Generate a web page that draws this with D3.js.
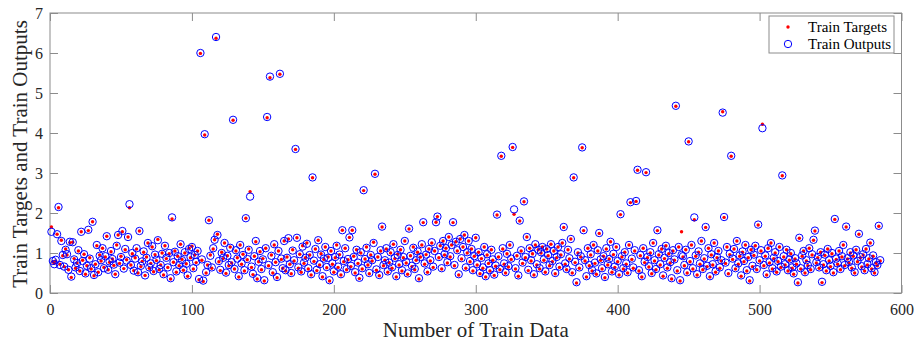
<!DOCTYPE html>
<html>
<head>
<meta charset="utf-8">
<script src="https://cdn.jsdelivr.net/npm/d3@7/dist/d3.min.js"></script>
<style>
  html, body { margin: 0; padding: 0; background: #fff; }
  svg { display: block; }
  .tick text { font-family: "Liberation Serif", "Times New Roman", serif; font-size: 16px; fill: #262626; }
</style>
</head>
<body>
<svg id="chart" width="918" height="343"></svg>
<script>
// Target values for each training sample (sample index starts at 1)
const trainTargets = [
  1.65, 0.78, 0.74, 0.80, 1.47, 2.13, 0.72, 1.32, 0.93, 0.66, 1.10, 0.95, 0.58, 1.26, 0.39,
  1.27, 0.86, 0.62, 0.75, 1.05, 0.55, 1.53, 0.82, 0.97, 0.47, 0.68, 1.56, 0.88, 0.60, 1.78,
  0.43, 0.72, 1.18, 0.52, 0.95, 0.80, 1.12, 0.64, 0.90, 1.42, 0.58, 0.77, 1.03, 0.85, 0.69,
  0.47, 1.20, 1.45, 0.74, 0.92, 1.53, 0.61, 1.08, 0.83, 1.40, 2.13, 0.70, 0.98, 0.56, 0.88,
  1.10, 0.50, 1.55, 0.66, 0.79, 1.02, 0.44, 0.90, 1.25, 0.62, 0.74, 1.15, 0.53, 0.96, 0.81,
  1.34, 0.58, 0.70, 1.00, 0.45, 1.18, 0.86, 0.64, 0.98, 0.35, 1.85, 0.77, 1.05, 0.52, 0.92,
  0.68, 1.22, 0.84, 0.57, 1.00, 0.73, 0.42, 1.12, 0.88, 1.17, 0.60, 0.95, 0.76, 1.05, 0.33,
  5.99, 0.82, 0.29, 3.95, 0.50, 0.70, 1.82, 0.95, 0.62, 1.10, 1.33, 6.37, 1.47, 0.78, 0.56,
  1.02, 0.86, 1.25, 0.49, 0.93, 0.68, 1.15, 0.75, 4.32, 0.60, 1.05, 0.88, 0.40, 1.20, 0.72,
  0.97, 0.55, 1.87, 0.83, 1.10, 2.53, 0.64, 0.46, 0.92, 1.28, 0.35, 0.78, 1.03, 0.58, 0.86,
  0.30, 1.12, 4.38, 0.68, 5.38, 0.95, 0.50, 1.20, 0.77, 0.38, 1.05, 5.47, 0.84, 0.62, 1.30,
  0.55, 0.90, 1.35, 0.72, 0.48, 1.08, 0.80, 3.59, 1.38, 0.62, 0.97, 0.52, 1.18, 0.74, 0.88,
  1.25, 0.60, 0.95, 0.45, 2.88, 0.79, 1.10, 0.56, 1.32, 0.70, 0.98, 0.40, 0.84, 1.15, 0.63,
  0.90, 0.30, 1.05, 0.72, 0.52, 0.88, 1.20, 0.64, 0.96, 0.45, 1.57, 0.78, 1.12, 0.58, 0.83,
  1.39, 0.66, 1.57, 0.92, 0.50, 1.08, 0.74, 0.36, 1.00, 0.60, 2.56, 0.85, 1.15, 0.70, 0.48,
  0.95, 0.80, 1.27, 2.97, 0.57, 0.90, 0.43, 1.05, 1.65, 0.68, 0.82, 1.10, 0.52, 0.76, 1.00,
  0.62, 1.22, 0.86, 0.40, 0.97, 0.70, 1.08, 0.55, 0.88, 1.30, 0.75, 0.47, 1.60, 0.93, 0.66,
  1.15, 0.58, 0.82, 1.02, 0.35, 0.90, 1.20, 1.76, 0.72, 0.96, 0.52, 1.10, 0.80, 1.25, 0.64,
  1.05, 1.77, 1.91, 0.88, 1.18, 0.60, 1.30, 0.95, 1.12, 0.75, 1.40, 0.90, 1.20, 1.76, 0.68,
  1.28, 1.05, 0.45, 1.35, 0.85, 1.15, 1.45, 0.62, 1.00, 1.30, 0.78, 1.10, 0.55, 0.92, 1.38,
  0.70, 1.02, 0.48, 0.86, 0.62, 1.15, 0.40, 0.95, 0.74, 0.55, 1.08, 0.82, 0.44, 0.67, 1.95,
  0.90, 0.58, 3.42, 1.10, 0.72, 0.50, 0.98, 0.65, 1.20, 0.84, 3.64, 1.97, 0.60, 0.93, 0.42,
  1.80, 1.05, 0.74, 2.28, 0.88, 1.40, 0.56, 1.12, 0.80, 0.98, 0.45, 1.20, 0.70, 1.08, 0.60,
  1.00, 1.15, 0.82, 0.52, 1.10, 0.93, 0.68, 1.22, 0.78, 1.05, 0.48, 0.88, 1.15, 0.64, 0.95,
  1.25, 1.64, 0.72, 0.58, 1.08, 0.85, 1.35, 0.50, 2.88, 0.76, 0.25, 1.00, 0.62, 0.90, 3.63,
  1.56, 0.80, 0.40, 1.12, 0.68, 0.95, 0.55, 1.20, 0.74, 0.47, 1.05, 1.49, 0.82, 0.60, 0.92,
  0.38, 1.10, 0.70, 0.85, 1.28, 0.52, 0.96, 0.64, 1.15, 0.78, 0.45, 1.96, 0.90, 0.60, 1.02,
  0.72, 0.50, 1.20, 2.26, 0.84, 0.62, 1.05, 2.29, 3.07, 0.55, 0.93, 0.40, 1.12, 0.76, 3.01,
  0.88, 0.65, 1.00, 0.48, 1.25, 0.80, 0.58, 1.56, 0.95, 0.70, 1.10, 0.42, 0.86, 1.18, 0.62,
  0.98, 0.75, 0.35, 1.05, 0.82, 4.67, 0.55, 1.15, 0.30, 1.53, 0.90, 0.68, 1.08, 0.50, 3.78,
  0.78, 1.20, 0.60, 1.83, 0.92, 0.45, 1.02, 0.72, 1.30, 0.58, 0.85, 1.64, 0.66, 1.12, 0.40,
  0.95, 0.70, 1.25, 0.52, 0.88, 1.05, 0.62, 0.80, 4.53, 1.89, 0.74, 1.15, 0.48, 0.96, 3.42,
  0.84, 1.10, 0.60, 1.30, 0.72, 0.92, 0.42, 1.02, 0.78, 1.20, 0.55, 0.88, 0.30, 1.08, 0.66,
  0.94, 1.18, 0.58, 1.70, 0.80, 1.05, 4.22, 0.68, 0.92, 0.45, 1.12, 0.75, 1.25, 0.60, 0.86,
  1.00, 0.52, 0.78, 1.15, 0.64, 2.93, 0.90, 0.70, 1.08, 0.55, 0.82, 0.98, 0.62, 0.47, 0.85,
  0.72, 0.25, 1.37, 0.60, 0.92, 1.05, 0.50, 0.80, 0.68, 1.12, 0.58, 0.95, 1.32, 1.55, 0.75,
  0.88, 0.62, 1.02, 0.26, 0.70, 0.94, 0.55, 1.10, 0.80, 0.66, 0.98, 0.50, 1.84, 0.84, 0.72,
  1.05, 0.58, 0.90, 1.20, 0.68, 1.65, 0.85, 0.75, 1.00, 0.62, 0.92, 0.50, 1.08, 0.78, 1.47,
  0.88, 0.65, 0.95, 0.55, 1.10, 0.70, 0.85, 1.25, 0.60, 0.92, 0.50, 0.75, 0.68, 1.67, 0.80
];

// Network outputs for the same samples
const trainOutputs = [
  1.53, 0.80, 0.72, 0.83, 1.47, 2.15, 0.70, 1.30, 0.95, 0.66, 1.08, 0.97, 0.58, 1.28, 0.41,
  1.27, 0.84, 0.64, 0.75, 1.07, 0.55, 1.53, 0.80, 0.97, 0.49, 0.68, 1.58, 0.86, 0.62, 1.78,
  0.45, 0.72, 1.20, 0.52, 0.93, 0.82, 1.12, 0.62, 0.92, 1.42, 0.58, 0.79, 1.05, 0.85, 0.71,
  0.47, 1.18, 1.45, 0.76, 0.90, 1.55, 0.61, 1.10, 0.81, 1.40, 2.22, 0.70, 1.00, 0.56, 0.86,
  1.12, 0.52, 1.55, 0.68, 0.79, 1.04, 0.44, 0.88, 1.25, 0.64, 0.74, 1.17, 0.55, 0.96, 0.83,
  1.32, 0.60, 0.70, 0.98, 0.47, 1.18, 0.88, 0.64, 1.00, 0.37, 1.89, 0.77, 1.03, 0.54, 0.92,
  0.70, 1.22, 0.82, 0.59, 1.02, 0.73, 0.44, 1.10, 0.90, 1.15, 0.62, 0.95, 0.78, 1.05, 0.35,
  6.00, 0.84, 0.31, 3.97, 0.52, 0.70, 1.82, 0.93, 0.64, 1.12, 1.33, 6.40, 1.45, 0.80, 0.58,
  1.00, 0.88, 1.25, 0.51, 0.93, 0.70, 1.13, 0.77, 4.33, 0.60, 1.07, 0.86, 0.42, 1.20, 0.74,
  0.95, 0.57, 1.87, 0.85, 1.08, 2.41, 0.66, 0.48, 0.92, 1.30, 0.37, 0.78, 1.05, 0.60, 0.84,
  0.32, 1.12, 4.40, 0.70, 5.41, 0.93, 0.52, 1.22, 0.77, 0.40, 1.05, 5.48, 0.86, 0.62, 1.30,
  0.57, 0.88, 1.37, 0.72, 0.50, 1.06, 0.82, 3.60, 1.38, 0.64, 0.97, 0.54, 1.16, 0.76, 0.88,
  1.23, 0.62, 0.95, 0.47, 2.89, 0.81, 1.10, 0.58, 1.32, 0.72, 0.96, 0.42, 0.86, 1.15, 0.65,
  0.88, 0.32, 1.05, 0.74, 0.54, 0.90, 1.18, 0.66, 0.96, 0.47, 1.57, 0.80, 1.12, 0.60, 0.85,
  1.39, 0.68, 1.57, 0.90, 0.52, 1.08, 0.76, 0.38, 1.02, 0.62, 2.57, 0.85, 1.13, 0.72, 0.50,
  0.95, 0.82, 1.25, 2.98, 0.59, 0.90, 0.45, 1.07, 1.66, 0.70, 0.82, 1.12, 0.54, 0.76, 1.02,
  0.64, 1.22, 0.88, 0.42, 0.95, 0.72, 1.08, 0.57, 0.90, 1.30, 0.77, 0.49, 1.61, 0.93, 0.68,
  1.13, 0.60, 0.82, 1.04, 0.37, 0.90, 1.22, 1.77, 0.74, 0.96, 0.54, 1.10, 0.82, 1.27, 0.66,
  1.05, 1.77, 1.91, 0.90, 1.18, 0.62, 1.30, 0.97, 1.12, 0.77, 1.40, 0.92, 1.20, 1.77, 0.70,
  1.28, 1.07, 0.47, 1.35, 0.87, 1.15, 1.45, 0.64, 1.02, 1.30, 0.80, 1.10, 0.57, 0.92, 1.38,
  0.72, 1.02, 0.50, 0.88, 0.64, 1.15, 0.42, 0.97, 0.74, 0.57, 1.08, 0.84, 0.46, 0.69, 1.96,
  0.92, 0.60, 3.43, 1.12, 0.74, 0.52, 0.98, 0.67, 1.20, 0.86, 3.65, 2.09, 0.62, 0.93, 0.44,
  1.81, 1.07, 0.76, 2.29, 0.90, 1.40, 0.58, 1.12, 0.82, 0.98, 0.47, 1.22, 0.72, 1.08, 0.62,
  1.02, 1.15, 0.84, 0.54, 1.10, 0.95, 0.70, 1.22, 0.80, 1.05, 0.50, 0.90, 1.15, 0.66, 0.97,
  1.25, 1.65, 0.74, 0.60, 1.08, 0.87, 1.35, 0.52, 2.89, 0.78, 0.27, 1.02, 0.64, 0.92, 3.64,
  1.57, 0.82, 0.42, 1.12, 0.70, 0.97, 0.57, 1.20, 0.76, 0.49, 1.07, 1.50, 0.84, 0.62, 0.92,
  0.40, 1.12, 0.72, 0.85, 1.28, 0.54, 0.98, 0.66, 1.15, 0.80, 0.47, 1.97, 0.92, 0.62, 1.02,
  0.74, 0.52, 1.20, 2.27, 0.86, 0.64, 1.07, 2.30, 3.08, 0.57, 0.95, 0.42, 1.12, 0.78, 3.02,
  0.90, 0.67, 1.02, 0.50, 1.25, 0.82, 0.60, 1.57, 0.97, 0.72, 1.10, 0.44, 0.88, 1.18, 0.64,
  1.00, 0.77, 0.37, 1.07, 0.84, 4.68, 0.57, 1.15, 0.32, 0.95, 0.92, 0.70, 1.08, 0.52, 3.79,
  0.80, 1.20, 0.62, 1.89, 0.94, 0.47, 1.04, 0.74, 1.30, 0.60, 0.87, 1.65, 0.68, 1.12, 0.42,
  0.97, 0.72, 1.25, 0.54, 0.90, 1.05, 0.64, 0.82, 4.51, 1.90, 0.76, 1.15, 0.50, 0.98, 3.43,
  0.86, 1.10, 0.62, 1.30, 0.74, 0.94, 0.44, 1.04, 0.80, 1.20, 0.57, 0.90, 0.32, 1.08, 0.68,
  0.96, 1.18, 0.60, 1.71, 0.82, 1.07, 4.12, 0.70, 0.94, 0.47, 1.12, 0.77, 1.25, 0.62, 0.88,
  1.02, 0.54, 0.80, 1.15, 0.66, 2.94, 0.92, 0.72, 1.08, 0.57, 0.84, 1.00, 0.64, 0.49, 0.87,
  0.74, 0.27, 1.38, 0.62, 0.94, 1.05, 0.52, 0.82, 0.70, 1.12, 0.60, 0.97, 1.33, 1.56, 0.77,
  0.90, 0.64, 1.02, 0.28, 0.72, 0.96, 0.57, 1.10, 0.82, 0.68, 1.00, 0.52, 1.85, 0.86, 0.74,
  1.05, 0.60, 0.92, 1.20, 0.70, 1.66, 0.87, 0.77, 1.02, 0.64, 0.94, 0.52, 1.08, 0.80, 1.48,
  0.90, 0.67, 0.97, 0.57, 1.10, 0.72, 0.87, 1.26, 0.62, 0.94, 0.52, 0.77, 0.70, 1.68, 0.82
];

const xTicks = [0, 100, 200, 300, 400, 500, 600];
const yTicks = [0, 1, 2, 3, 4, 5, 6, 7];
const seriesNames = ["Train Targets", "Train Outputs"];

const plotL = 50, plotR = 901.5, plotT = 13, plotB = 293;
const axisColor = "#8c8c8c";
const serif = '"Liberation Serif", "Times New Roman", serif';

const svg = d3.select("#chart");

const x = d3.scaleLinear().domain([0, 600]).range([plotL, plotR]);
const y = d3.scaleLinear().domain([0, 7]).range([plotB, plotT]);

const samples = trainTargets.map((t, i) => ({ n: i + 1, t, o: trainOutputs[i] }));

// Axes: inward ticks on all four sides, labels on bottom and left
function styleAxis(g) {
  g.select(".domain").remove();
  g.selectAll(".tick line").attr("stroke", axisColor).attr("stroke-width", 1);
}

svg.append("g")
  .attr("transform", `translate(0,${plotB})`)
  .call(d3.axisBottom(x).tickValues(xTicks).tickFormat(d3.format("d")).tickSizeInner(-8).tickSizeOuter(0))
  .call(styleAxis)
  .call(g => g.selectAll(".tick text").attr("y", 22).attr("dy", null));

svg.append("g")
  .attr("transform", `translate(0,${plotT})`)
  .call(d3.axisTop(x).tickValues(xTicks).tickSizeInner(-8).tickSizeOuter(0).tickFormat(""))
  .call(styleAxis);

svg.append("g")
  .attr("transform", `translate(${plotL},0)`)
  .call(d3.axisLeft(y).tickValues(yTicks).tickFormat(d3.format("d")).tickSizeInner(-8).tickSizeOuter(0).tickPadding(7))
  .call(styleAxis);

svg.append("g")
  .attr("transform", `translate(${plotR},0)`)
  .call(d3.axisRight(y).tickValues(yTicks).tickSizeInner(-8).tickSizeOuter(0).tickFormat(""))
  .call(styleAxis);

// Plot box
svg.append("rect")
  .attr("x", plotL).attr("y", plotT)
  .attr("width", plotR - plotL).attr("height", plotB - plotT)
  .attr("fill", "none").attr("stroke", axisColor).attr("stroke-width", 1);

// Targets as red dots
svg.append("g")
  .selectAll("circle")
  .data(samples)
  .join("circle")
  .attr("cx", d => x(d.n))
  .attr("cy", d => y(d.t))
  .attr("r", 1.7)
  .attr("fill", "#ff0000");

// Outputs as open blue circles
svg.append("g")
  .selectAll("circle")
  .data(samples)
  .join("circle")
  .attr("cx", d => x(d.n))
  .attr("cy", d => y(d.o))
  .attr("r", 3.7)
  .attr("fill", "none")
  .attr("stroke", "#0000ff")
  .attr("stroke-width", 1);

// Axis titles
svg.append("text")
  .attr("x", (plotL + plotR) / 2)
  .attr("y", 337)
  .attr("text-anchor", "middle")
  .attr("font-family", serif)
  .attr("font-size", 21)
  .attr("fill", "#262626")
  .text("Number of Train Data");

svg.append("text")
  .attr("transform", `translate(27,${(plotT + plotB) / 2 + 1}) rotate(-90)`)
  .attr("text-anchor", "middle")
  .attr("font-family", serif)
  .attr("font-size", 21)
  .attr("fill", "#262626")
  .text("Train Targets and Train Outputs");

// Legend
const legend = svg.append("g");
legend.append("rect")
  .attr("x", 769).attr("y", 16)
  .attr("width", 125).attr("height", 37)
  .attr("fill", "#fff").attr("stroke", axisColor).attr("stroke-width", 1);

const rowsY = [27, 44];
legend.append("circle").attr("cx", 788).attr("cy", rowsY[0]).attr("r", 1.7).attr("fill", "#ff0000");
legend.append("circle").attr("cx", 788).attr("cy", rowsY[1]).attr("r", 3.7)
  .attr("fill", "none").attr("stroke", "#0000ff").attr("stroke-width", 1);

legend.selectAll("text.lbl")
  .data(seriesNames)
  .join("text")
  .attr("class", "lbl")
  .attr("x", 808)
  .attr("y", (d, i) => rowsY[i])
  .attr("dy", "0.35em")
  .attr("font-family", serif)
  .attr("font-size", 15)
  .attr("fill", "#000")
  .text(d => d);
</script>
</body>
</html>
